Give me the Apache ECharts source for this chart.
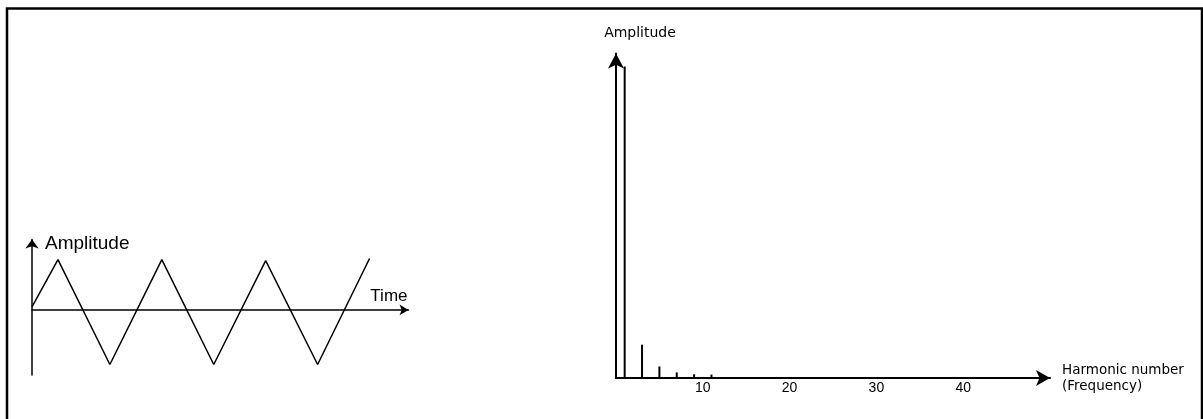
<!DOCTYPE html>
<html>
<head>
<meta charset="utf-8">
<script src="https://cdn.jsdelivr.net/npm/echarts@6/dist/echarts.min.js"></script>
<style>
html,body{margin:0;padding:0;background:#fff;}
#chart{width:1203px;height:419px;}
</style>
</head>
<body>
<div id="chart"></div>
<script>
// Left panel: triangle wave in time domain (time in quarter-period units, amplitude)
var waveTime = [0, 1, 3, 5, 7, 9, 11, 13];
var waveAmplitude = [0.06, 0.96, -1.04, 0.96, -1.04, 0.94, -1.04, 0.98];
// Right panel: harmonic spectrum
var harmonicNumbers = [1, 3, 5, 7, 9, 11];
var harmonicAmplitudes = [1.0, 0.107, 0.037, 0.018, 0.012, 0.011];
var harmonicTicks = [10, 20, 30, 40];

var chart = echarts.init(document.getElementById('chart'), null, {renderer: 'canvas'});

var waveData = waveTime.map(function (t, i) { return [t, waveAmplitude[i]]; });
var specData = harmonicNumbers.map(function (h, i) { return [h, harmonicAmplitudes[i]]; });

var option = {
  backgroundColor: '#ffffff',
  animation: false,
  graphic: [{
    type: 'rect',
    shape: {x: 7, y: 8.5, width: 1195, height: 440},
    style: {fill: 'none', stroke: '#000', lineWidth: 2.5},
    silent: true
  }],
  grid: [
    {left: 32, width: 376.5, top: 239.5, height: 135.5},
    {left: 616, width: 434, top: 53.5, height: 324.5}
  ],
  xAxis: [
    {
      gridIndex: 0, type: 'value', min: 0, max: 14.5,
      name: 'Time', nameLocation: 'end', nameGap: -1,
      nameTextStyle: {fontFamily: 'Liberation Sans', fontSize: 17, color: '#000', align: 'right', verticalAlign: 'bottom', padding: [0, 0, 5, 0]},
      axisLine: {onZero: true, lineStyle: {color: '#000', width: 1.5}, symbol: ['none', 'arrow'], symbolSize: [8, 9]},
      axisTick: {show: false}, axisLabel: {show: false}, splitLine: {show: false}
    },
    {
      gridIndex: 1, type: 'value', min: 0, max: 50, interval: 10,
      name: 'Harmonic number\n(Frequency)', nameLocation: 'end', nameGap: 12,
      nameTextStyle: {fontFamily: 'DejaVu Sans', fontSize: 13.5, color: '#000', align: 'left', verticalAlign: 'middle', lineHeight: 16},
      axisLine: {lineStyle: {color: '#000', width: 2}, symbol: ['none', 'arrow'], symbolSize: [12, 14]},
      axisTick: {show: false},
      axisLabel: {
        fontFamily: 'Liberation Sans', fontSize: 14, color: '#000', margin: 3,
        formatter: function (v) { return harmonicTicks.indexOf(v) >= 0 ? String(v) : ''; }
      },
      splitLine: {show: false}
    }
  ],
  yAxis: [
    {
      gridIndex: 0, type: 'value', min: -1.24, max: 1.343,
      name: 'Amplitude', nameLocation: 'end', nameGap: -4,
      nameTextStyle: {fontFamily: 'Liberation Sans', fontSize: 19, color: '#000', align: 'left', verticalAlign: 'middle', padding: [0, 0, 0, 13]},
      axisLine: {lineStyle: {color: '#000', width: 1.5}, symbol: ['none', 'arrow'], symbolSize: [10, 9]},
      axisTick: {show: false}, axisLabel: {show: false}, splitLine: {show: false}
    },
    {
      gridIndex: 1, type: 'value', min: 0, max: 1.042,
      name: 'Amplitude', nameLocation: 'end', nameGap: 13,
      nameTextStyle: {fontFamily: 'DejaVu Sans', fontSize: 14, color: '#000', align: 'center', verticalAlign: 'bottom', padding: [0, 0, 0, 48]},
      axisLine: {lineStyle: {color: '#000', width: 2}, symbol: ['none', 'arrow'], symbolSize: [12, 15]},
      axisTick: {show: false}, axisLabel: {show: false}, splitLine: {show: false}
    }
  ],
  series: [
    {
      type: 'line', xAxisIndex: 0, yAxisIndex: 0, data: waveData,
      symbol: 'none', lineStyle: {color: '#000', width: 1.5}, z: 5
    },
    {
      type: 'bar', xAxisIndex: 1, yAxisIndex: 1, data: specData,
      barWidth: 2, itemStyle: {color: '#000'}
    }
  ]
};
chart.setOption(option);
</script>
</body>
</html>
